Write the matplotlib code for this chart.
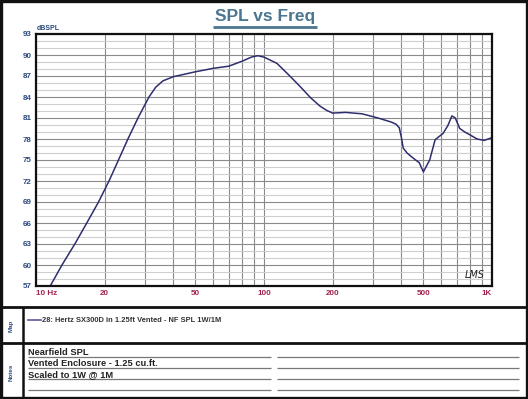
import matplotlib
matplotlib.use("Agg")
import matplotlib.pyplot as plt
from matplotlib.lines import Line2D
from matplotlib.patches import Rectangle
import numpy as np

plt.rcParams['font.family'] = ['Liberation Sans', 'DejaVu Sans']

# ---- data ----
freq = [11.5, 13.0, 14.8, 16.7, 18.8, 20.9, 23.0, 25.3, 28.0, 31.3, 33.5, 36.0, 40, 50, 60,
        70, 80, 88, 94, 100, 114, 128, 144, 160, 176, 188, 200, 228, 269, 300, 324, 363, 380,
        392, 400, 408, 424, 450, 480, 500, 533, 563, 610, 640, 667, 690, 722, 760, 800, 860,
        925, 1000]
spl = [56.9, 60, 63, 66, 69, 72, 75, 78, 81, 84, 85.4, 86.3, 86.9, 87.6, 88.1,
       88.4, 89.1, 89.7, 89.9, 89.7, 88.8, 87.2, 85.5, 83.9, 82.7, 82.1, 81.7, 81.8, 81.6,
       81.2, 80.9, 80.4, 80.1, 79.6, 78.3, 76.7, 76.0, 75.3, 74.6, 73.3, 75.0, 77.9, 78.8,
       79.9, 81.3, 81.0, 79.5, 79.0, 78.6, 78.0, 77.8, 78.2]
x_major = [10, 20, 50, 100, 200, 500, 1000]
x_labels = ['10 Hz', '20', '50', '100', '200', '500', '1K']
x_minor = [30, 40, 60, 70, 80, 90, 300, 400, 600, 700, 800, 900]
y_ticks = list(range(57, 94, 3))
y_minor = list(range(57, 94, 1))

title = "SPL vs Freq"
legend_text = "28: Hertz SX300D in 1.25ft Vented - NF SPL 1W/1M"
notes = ["Nearfield SPL", "Vented Enclosure - 1.25 cu.ft.", "Scaled to 1W @ 1M"]

W, H = 528, 399
fig = plt.figure(figsize=(W / 100, H / 100), dpi=100)
fig.patch.set_facecolor('white')

# overlay in pixel coordinates
ov = fig.add_axes([0, 0, 1, 1])
ov.set_xlim(0, W)
ov.set_ylim(H, 0)
ov.axis('off')

def hl(y, x0, x1, lw=1.0, c='black'):
    ov.add_line(Line2D([x0, x1], [y, y], lw=lw, color=c, solid_capstyle='butt'))

def vl(x, y0, y1, lw=1.0, c='black'):
    ov.add_line(Line2D([x, x], [y0, y1], lw=lw, color=c, solid_capstyle='butt'))

# outer frame
ov.add_patch(Rectangle((1.2, 1.2), W - 2.4, H - 2.4, fill=False, lw=2.4, ec='#111111'))
hl(307, 0, W, lw=2.0, c='#111111')
hl(343, 0, W, lw=2.0, c='#111111')
vl(22.5, 307, H, lw=1.8, c='#111111')

# title
ov.text(265, 17, title, ha='center', va='center', fontsize=12.5, fontweight='bold',
        color='#4b7590')
hl(26.5, 213, 317, lw=2.0, c='#4b7590')

# dBSPL label
ov.text(37, 28, "dBSPL", ha='left', va='center', fontsize=5, fontweight='bold', color='#2b4a80')

# Map / Notes side labels
ov.text(11, 326, "Map", rotation=90, ha='center', va='center', fontsize=4.5,
        fontweight='bold', color='#2b4a80')
ov.text(11, 372, "Notes", rotation=90, ha='center', va='center', fontsize=4.5,
        fontweight='bold', color='#2b4a80')

# legend line + text
ov.add_line(Line2D([28, 41], [320, 320], lw=1.2, color='#5a5a9a'))
ov.text(42, 320, legend_text, ha='left', va='center', fontsize=5.45, fontweight='bold',
        color='#333333')

# notes lines
for y in [357, 367.7, 378.7, 389.5]:
    hl(y, 28, 271, lw=0.9, c='#777777')
    hl(y, 277, 519, lw=0.9, c='#777777')
for i, t in enumerate(notes):
    ov.text(28, 352.3 + i * 11, t, ha='left', va='center', fontsize=6.7,
            fontweight='bold', color='#222222')

# ---- main plot ----
ax = fig.add_axes([36 / W, 1 - 286 / H, 456 / W, 252 / H])
ax.set_xscale('log')
ax.set_xlim(10, 1000)
ax.set_ylim(57, 93)

ax.set_yticks(y_ticks)
ax.set_yticks(y_minor, minor=True)
ax.set_xticks(x_major)
ax.set_xticks(x_minor, minor=True)
ax.set_xticklabels(x_labels)
ax.xaxis.set_minor_formatter(plt.NullFormatter())

ax.grid(True, which='minor', axis='y', color='#cfcfcf', lw=0.8)
ax.grid(True, which='major', axis='y', color='#8a8a8a', lw=0.8)
ax.grid(True, which='both', axis='x', color='#8a8a8a', lw=0.8)
ax.set_axisbelow(True)

ax.tick_params(which='both', length=0)
ax.tick_params(axis='y', pad=3, labelsize=5.8, labelcolor='#2b4a80')
ax.tick_params(axis='x', pad=3, labelsize=5.8, labelcolor='#a3224f')
for lbl in ax.get_yticklabels():
    lbl.set_fontweight('bold')
xl = ax.get_xticklabels()
for lbl in xl:
    lbl.set_fontweight('bold')
xl[0].set_horizontalalignment('left')
xl[-1].set_horizontalalignment('right')

for s in ax.spines.values():
    s.set_linewidth(1.6)
    s.set_color('#111111')

ax.plot(freq, spl, color='#2e2e6e', lw=1.1, clip_on=True)

ax.text(0.985, 0.045, "LMS", transform=ax.transAxes, ha='right', va='center',
        fontsize=7, style='italic', color='#222222', family='DejaVu Sans')

fig.savefig('out.png', dpi=100, facecolor='white')
